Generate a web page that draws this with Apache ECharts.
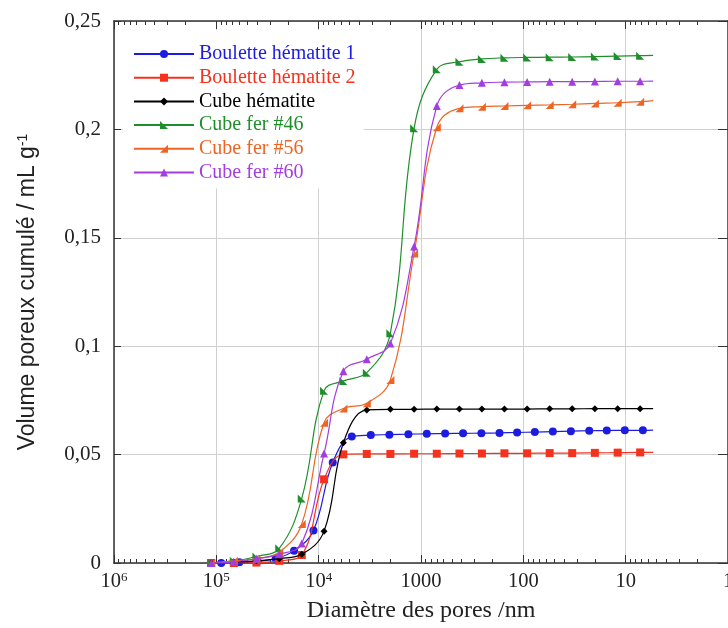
<!DOCTYPE html>
<html><head><meta charset="utf-8">
<script src="https://cdn.jsdelivr.net/npm/echarts@6/dist/echarts.min.js"></script>
<style>html,body{margin:0;padding:0;background:#fff;overflow:hidden}#c{width:728px;height:628px}</style>
</head><body><div id="c"></div>
<script>
// Series names
const seriesNames = ['Boulette hématite 1', 'Boulette hématite 2', 'Cube hématite', 'Cube fer #46', 'Cube fer #56', 'Cube fer #60'];
const seriesColors = ['#1c1ce0', '#f4321e', '#000000', '#1f8f2c', '#ee6424', '#a43de0'];

// Pore diameters (nm) shared by five series; the final one is the end of the curves (no marker)
const diamGrid = [112200, 67440, 40550, 24280, 14630, 8855, 5736, 3387, 1992, 1168, 701, 421, 254, 153, 91.8, 55.3, 33.3, 20.0, 11.97, 7.22, 5.39];
// Pore diameters (nm) for Boulette hématite 1 (denser sampling)
const diamBlue = [89580, 59600, 39570, 26270, 17400, 11240, 7283, 4747, 3095, 2037, 1328, 878, 581, 388, 257, 171, 115, 77.2, 51.5, 34.3, 22.7, 15.3, 10.2, 6.79, 5.39];

// Cumulative pore volume (mL/g)
const volBoulette1 = [0, 0.0003, 0.0008, 0.002, 0.0057, 0.015, 0.0464, 0.0583, 0.059, 0.0592, 0.0594, 0.0596, 0.0597, 0.0598, 0.0599, 0.06, 0.0602, 0.0604, 0.0606, 0.0608, 0.061, 0.0611, 0.0612, 0.0612, 0.0613];
const volBoulette2 = [0, 0, 0.0002, 0.001, 0.0037, 0.0386, 0.0501, 0.0503, 0.0503, 0.0504, 0.0504, 0.0505, 0.0505, 0.0506, 0.0506, 0.0507, 0.0507, 0.0508, 0.0509, 0.051, 0.051];
const volCubeHematite = [0, 0.0005, 0.001, 0.002, 0.004, 0.0147, 0.0555, 0.0706, 0.0709, 0.0709, 0.071, 0.071, 0.071, 0.071, 0.071, 0.0711, 0.0711, 0.0712, 0.0712, 0.0712, 0.0712];
const volCubeFer46 = [0, 0.001, 0.003, 0.0068, 0.0298, 0.0795, 0.084, 0.0878, 0.106, 0.2005, 0.2277, 0.2312, 0.2325, 0.233, 0.2332, 0.2333, 0.2334, 0.2336, 0.2338, 0.234, 0.2341];
const volCubeFer56 = [0, 0.001, 0.002, 0.005, 0.018, 0.0647, 0.0713, 0.0737, 0.0844, 0.1428, 0.201, 0.2097, 0.2105, 0.2108, 0.2111, 0.2113, 0.2116, 0.212, 0.2123, 0.2128, 0.2133];
const volCubeFer60 = [0, 0.0005, 0.002, 0.004, 0.009, 0.0505, 0.0884, 0.094, 0.1013, 0.146, 0.2108, 0.2205, 0.2215, 0.2218, 0.2219, 0.222, 0.222, 0.2221, 0.2222, 0.2222, 0.2223];

// Axis ticks
const xMajorTicks = [1, 10, 100, 1000, 10000, 100000, 1000000];
const xTickLabels = ['1', '10', '100', '1000', '10{sup|4}', '10{sup|5}', '10{sup|6}'];
const yTicks = [0, 0.05, 0.1, 0.15, 0.2, 0.25];

const xMinorTicks = [];
for (let e = 0; e < 6; e++) for (let m = 2; m <= 9; m++) xMinorTicks.push(m * Math.pow(10, e));

const symbols = ['circle', 'rect', 'diamond', 'path://M0,0 L0,10 L10,10 Z', 'path://M10,0 L10,10 L0,10 Z', 'triangle'];
const symbolSizes = [8, 8, 7, 8, 8, 8];
const diams = [diamBlue, diamGrid, diamGrid, diamGrid, diamGrid, diamGrid];
const vols = [volBoulette1, volBoulette2, volCubeHematite, volCubeFer46, volCubeFer56, volCubeFer60];

function build(d, v) {
  return v.map((y, i) => i === v.length - 1 ? { value: [d[i], y], symbol: 'none' } : [d[i], y]);
}

const serif = 'Liberation Serif';
const axisCol = '#333';
const gridCol = '#d0d0d0';

function xAxisBase(pos, major, showLabel) {
  return {
    type: 'log', logBase: 10, min: 1, max: 1000000, inverse: true, position: pos,
    axisLine: { show: major, lineStyle: { color: axisCol, width: 1.5 } },
    axisTick: { show: true, inside: true, length: major ? 8 : 4, customValues: major ? xMajorTicks : xMinorTicks, lineStyle: { color: axisCol, width: 1 } },
    axisLabel: { show: showLabel },
    splitLine: { show: false }
  };
}

const xBottom = xAxisBase('bottom', true, true);
xBottom.axisLabel = {
  show: true, customValues: xMajorTicks, margin: 8, color: '#222', fontFamily: serif, fontSize: 20.5,
  formatter: function (val) { const i = xMajorTicks.findIndex(t => Math.abs(Math.log10(t) - Math.log10(val)) < 1e-6); return i >= 0 ? xTickLabels[i] : ''; },
  rich: { sup: { fontSize: 13, fontFamily: serif, color: '#222', verticalAlign: 'top', lineHeight: 12, padding: [0, 0, 10, 0] } }
};
xBottom.splitLine = { show: true, lineStyle: { color: gridCol, width: 1 } };
xBottom.name = 'Diamètre des pores /nm';
xBottom.nameLocation = 'middle';
xBottom.nameGap = 32;
xBottom.nameTextStyle = { fontFamily: serif, fontSize: 24, color: '#222' };

const option = {
  animation: false,
  backgroundColor: '#fff',
  grid: { left: 114, right: 0, top: 21, bottom: 65, containLabel: false, outerBoundsMode: 'none' },
  legend: {
    orient: 'vertical', left: 123, top: 30, padding: [14, 8, 6, 10],
    backgroundColor: '#fff', itemWidth: 60, itemHeight: 10, itemGap: 3.7,
    textStyle: { fontFamily: serif, fontSize: 20, lineHeight: 20 },
    data: seriesNames.map((n, i) => ({ name: n, textStyle: { color: seriesColors[i] } }))
  },
  xAxis: [
    xBottom,
    xAxisBase('bottom', false, false),
    xAxisBase('top', true, false),
    xAxisBase('top', false, false)
  ],
  yAxis: [
    {
      type: 'value', min: 0, max: 0.25, interval: 0.05, position: 'left',
      axisLine: { show: true, lineStyle: { color: axisCol, width: 1.5 } },
      axisTick: { show: true, inside: true, length: 7, lineStyle: { color: axisCol } },
      axisLabel: { margin: 13, color: '#222', fontFamily: serif, fontSize: 21,
        formatter: v => v === 0 ? '0' : String(+v.toFixed(2)).replace('.', ',') },
      splitLine: { show: true, lineStyle: { color: gridCol, width: 1 } },
      name: 'Volume poreux cumulé / mL g{sup|-1}', nameLocation: 'middle', nameGap: 75,
      nameTextStyle: { fontFamily: 'Liberation Sans', fontSize: 23, color: '#222',
        rich: { sup: { fontFamily: 'Liberation Sans', fontSize: 14, verticalAlign: 'top', lineHeight: 14, padding: [0, 0, 10, 0], color: '#222' } } }
    },
    {
      type: 'value', min: 0, max: 0.25, interval: 0.05, position: 'right',
      axisLine: { show: true, lineStyle: { color: axisCol, width: 1.5 } },
      axisTick: { show: true, inside: true, length: 10, lineStyle: { color: axisCol } },
      axisLabel: { show: false }, splitLine: { show: false }
    }
  ],
  series: seriesNames.map((n, i) => ({
    name: n, type: 'line', xAxisIndex: 0, yAxisIndex: 0,
    data: build(diams[i], vols[i]),
    smooth: 0.4,
    symbol: symbols[i], symbolSize: symbolSizes[i], showAllSymbol: true,
    lineStyle: { color: seriesColors[i], width: 1.2 },
    itemStyle: { color: seriesColors[i] },
    z: 3 + i
  }))
};
const chart = echarts.init(document.getElementById('c'), null, { renderer: 'canvas' });
chart.setOption(option);
</script></body></html>
